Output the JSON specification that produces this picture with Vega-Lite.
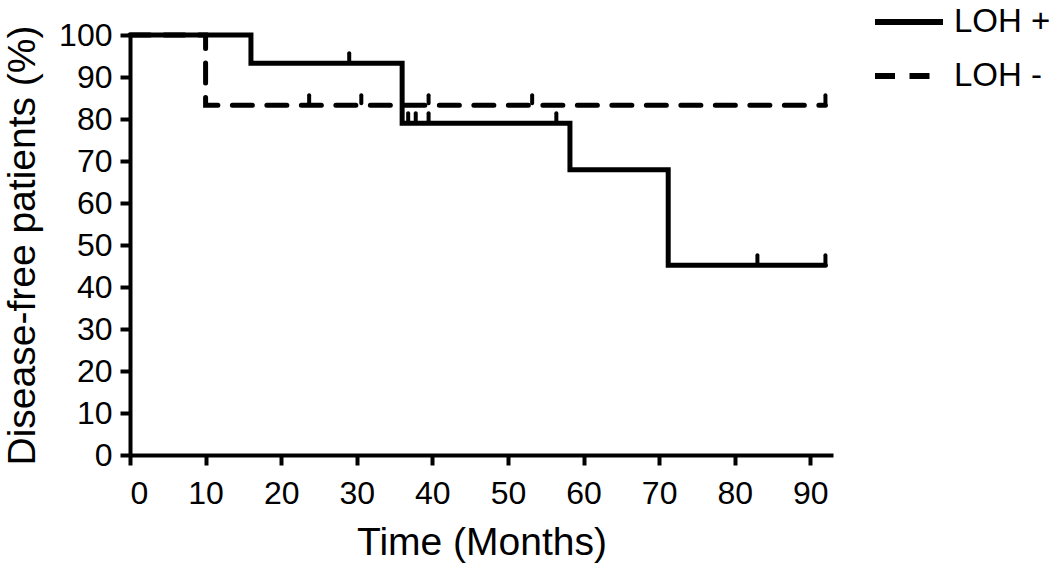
{
  "$schema": "https://vega.github.io/schema/vega-lite/v6.json",
  "width": 703,
  "height": 420,
  "autosize": {"type": "none"},
  "padding": {"left": 130, "top": 35, "right": 229, "bottom": 113},
  "background": "white",
  "config": {
    "view": {"stroke": null},
    "font": "Liberation Sans",
    "axis": {
      "grid": false,
      "domainColor": "black",
      "domainWidth": 4,
      "tickColor": "black",
      "tickWidth": 4,
      "tickSize": 10,
      "labelColor": "black",
      "labelFont": "Liberation Sans",
      "labelFontSize": 32,
      "titleFont": "Liberation Sans",
      "titleFontSize": 39,
      "titleFontWeight": "normal",
      "titleColor": "black"
    }
  },
  "datasets": {
    "curves": [
      {"group": "LOH +", "month": 0, "pct": 100},
      {"group": "LOH +", "month": 16, "pct": 93.3},
      {"group": "LOH +", "month": 36, "pct": 79},
      {"group": "LOH +", "month": 58.2, "pct": 67.9},
      {"group": "LOH +", "month": 71.2, "pct": 45.2},
      {"group": "LOH +", "month": 92, "pct": 45.2},
      {"group": "LOH -", "month": 0, "pct": 100},
      {"group": "LOH -", "month": 10, "pct": 83.3},
      {"group": "LOH -", "month": 92, "pct": 83.3}
    ],
    "censored": [
      {"group": "LOH +", "month": 29, "pct": 93.3},
      {"group": "LOH +", "month": 36.8, "pct": 79},
      {"group": "LOH +", "month": 37.8, "pct": 79},
      {"group": "LOH +", "month": 39.5, "pct": 79},
      {"group": "LOH +", "month": 56.4, "pct": 79},
      {"group": "LOH +", "month": 83, "pct": 45.2},
      {"group": "LOH +", "month": 92, "pct": 45.2},
      {"group": "LOH -", "month": 23.7, "pct": 83.3},
      {"group": "LOH -", "month": 30.6, "pct": 83.3},
      {"group": "LOH -", "month": 39.5, "pct": 83.3},
      {"group": "LOH -", "month": 53.2, "pct": 83.3},
      {"group": "LOH -", "month": 92, "pct": 83.3}
    ]
  },
  "layer": [
    {
      "data": {"name": "curves"},
      "mark": {"type": "line", "interpolate": "step-after", "color": "black", "strokeWidth": 5, "strokeCap": "round", "strokeJoin": "miter"},
      "encoding": {
        "x": {
          "field": "month", "type": "quantitative",
          "scale": {"domain": [0, 93], "nice": false, "zero": true},
          "axis": {"values": [0, 10, 20, 30, 40, 50, 60, 70, 80, 90], "title": "Time (Months)", "labelPadding": 13, "titlePadding": 14}
        },
        "y": {
          "field": "pct", "type": "quantitative",
          "scale": {"domain": [0, 100], "nice": false},
          "axis": {"values": [0, 10, 20, 30, 40, 50, 60, 70, 80, 90, 100], "title": "Disease-free patients (%)", "labelPadding": 8, "titlePadding": 16}
        },
        "strokeDash": {
          "field": "group", "type": "nominal",
          "scale": {"domain": ["LOH +", "LOH -"], "range": [[1, 0], [20, 14.5]]},
          "legend": {
            "title": null,
            "orient": "none",
            "legendX": 742,
            "legendY": -50,
            "symbolType": "stroke",
            "symbolSize": 4624,
            "symbolStrokeWidth": 6,
            "symbolStrokeColor": "black",
            "labelFont": "Liberation Sans",
            "labelFontSize": 33,
            "labelColor": "black",
            "labelOffset": 8,
            "rowPadding": -16
          }
        }
      }
    },
    {
      "data": {"name": "censored"},
      "mark": {"type": "tick", "orient": "vertical", "color": "black", "opacity": 1, "size": 12, "thickness": 4, "yOffset": -6, "cornerRadius": 2},
      "encoding": {
        "x": {"field": "month", "type": "quantitative"},
        "y": {"field": "pct", "type": "quantitative"}
      }
    }
  ]
}
